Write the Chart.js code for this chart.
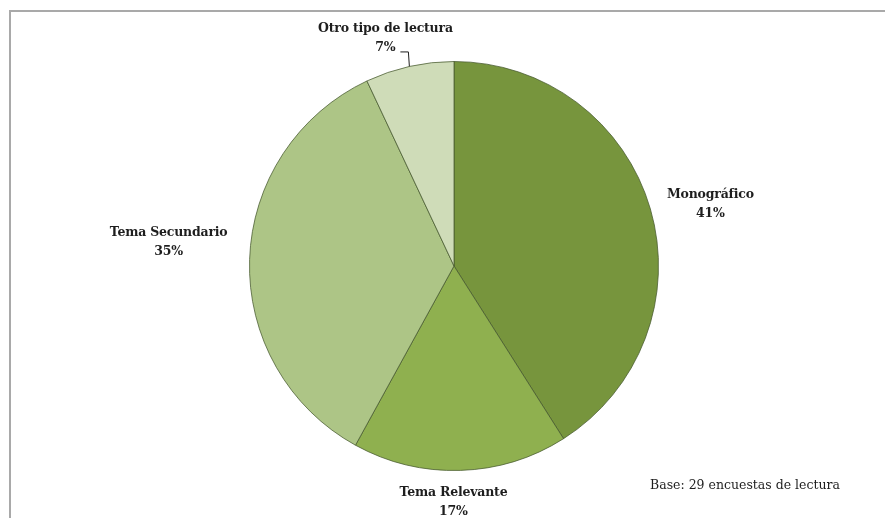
<!DOCTYPE html>
<html>
<head>
<meta charset="utf-8">
<script src="https://cdn.jsdelivr.net/npm/chart.js@4/dist/chart.umd.min.js"></script>
<style>
  html, body { margin: 0; padding: 0; background: #fff; }
  #wrap { position: relative; width: 885px; height: 518px; overflow: hidden; }
  #frame {
    position: absolute; left: 9px; top: 10px; width: 900px; height: 540px;
    border-left: 2px solid #a9a9a9; border-top: 2px solid #a9a9a9;
  }
  canvas { position: absolute; left: 0; top: 0; }
</style>
</head>
<body>
<div id="wrap">
  <div id="frame"></div>
  <canvas id="lectura" width="885" height="518"></canvas>
</div>
<script>
// tipos de lectura (porcentaje de encuestas)
const categorias = ['Monográfico', 'Tema Relevante', 'Tema Secundario', 'Otro tipo de lectura'];
const porcentajes = [41, 17, 35, 7];
const colores = ['#77953d', '#8fb04f', '#adc586', '#cfdcb8'];
const notaBase = 'Base: 29 encuestas de lectura';

// etiquetas fuera del sector, desplazadas desde el punto medio del arco
const etiquetasFuera = {
  id: 'etiquetasFuera',
  afterDatasetsDraw(chart, args, opts) {
    const ctx = chart.ctx;
    const arcs = chart.getDatasetMeta(0).data;
    ctx.save();
    ctx.fillStyle = '#1e1e1e';
    ctx.font = 'bold 12.5px "DejaVu Serif"';
    ctx.letterSpacing = '-0.2px';
    ctx.textBaseline = 'middle';
    arcs.forEach((arc, i) => {
      const p = arc.getProps(['x', 'y', 'startAngle', 'endAngle', 'outerRadius'], true);
      const mid = (p.startAngle + p.endAngle) / 2;
      const px = p.x + Math.cos(mid) * p.outerRadius;
      const py = p.y + Math.sin(mid) * p.outerRadius;
      const o = opts.colocacion[i];
      const tx = px + o.dx, ty = py + o.dy;
      ctx.textAlign = o.align;
      ctx.fillText(categorias[i], tx, ty);
      ctx.fillText(porcentajes[i] + '%', tx, ty + 19);
      if (o.guia) {
        // línea guía hasta el borde del sector
        ctx.strokeStyle = '#1e1e1e';
        ctx.lineWidth = 1;
        ctx.beginPath();
        ctx.moveTo(tx + 15, ty + 23.5);
        ctx.lineTo(px - 1, ty + 23.5);
        ctx.lineTo(px, py);
        ctx.stroke();
      }
    });
    ctx.font = '12.5px "DejaVu Serif"';
    ctx.letterSpacing = '0px';
    ctx.textAlign = 'left';
    ctx.fillText(notaBase, 650, 486);
    ctx.restore();
  }
};

const ctx = document.getElementById('lectura').getContext('2d');
new Chart(ctx, {
  type: 'pie',
  data: {
    labels: categorias,
    datasets: [{
      data: porcentajes,
      backgroundColor: colores,
      borderColor: 'rgba(70, 88, 45, 0.75)',
      borderWidth: 1
    }]
  },
  options: {
    responsive: false,
    animation: false,
    events: [],
    layout: { padding: { top: 61, bottom: 47, left: 249, right: 226 } },
    plugins: {
      legend: { display: false },
      tooltip: { enabled: false },
      etiquetasFuera: {
        colocacion: [
          { align: 'center', dx: 60, dy: -14 },
          { align: 'center', dx: -7, dy: 22 },
          { align: 'center', dx: -81, dy: -27 },
          { align: 'center', dx: -24, dy: -38, guia: true }
        ]
      }
    }
  },
  plugins: [etiquetasFuera]
});
</script>
</body>
</html>
